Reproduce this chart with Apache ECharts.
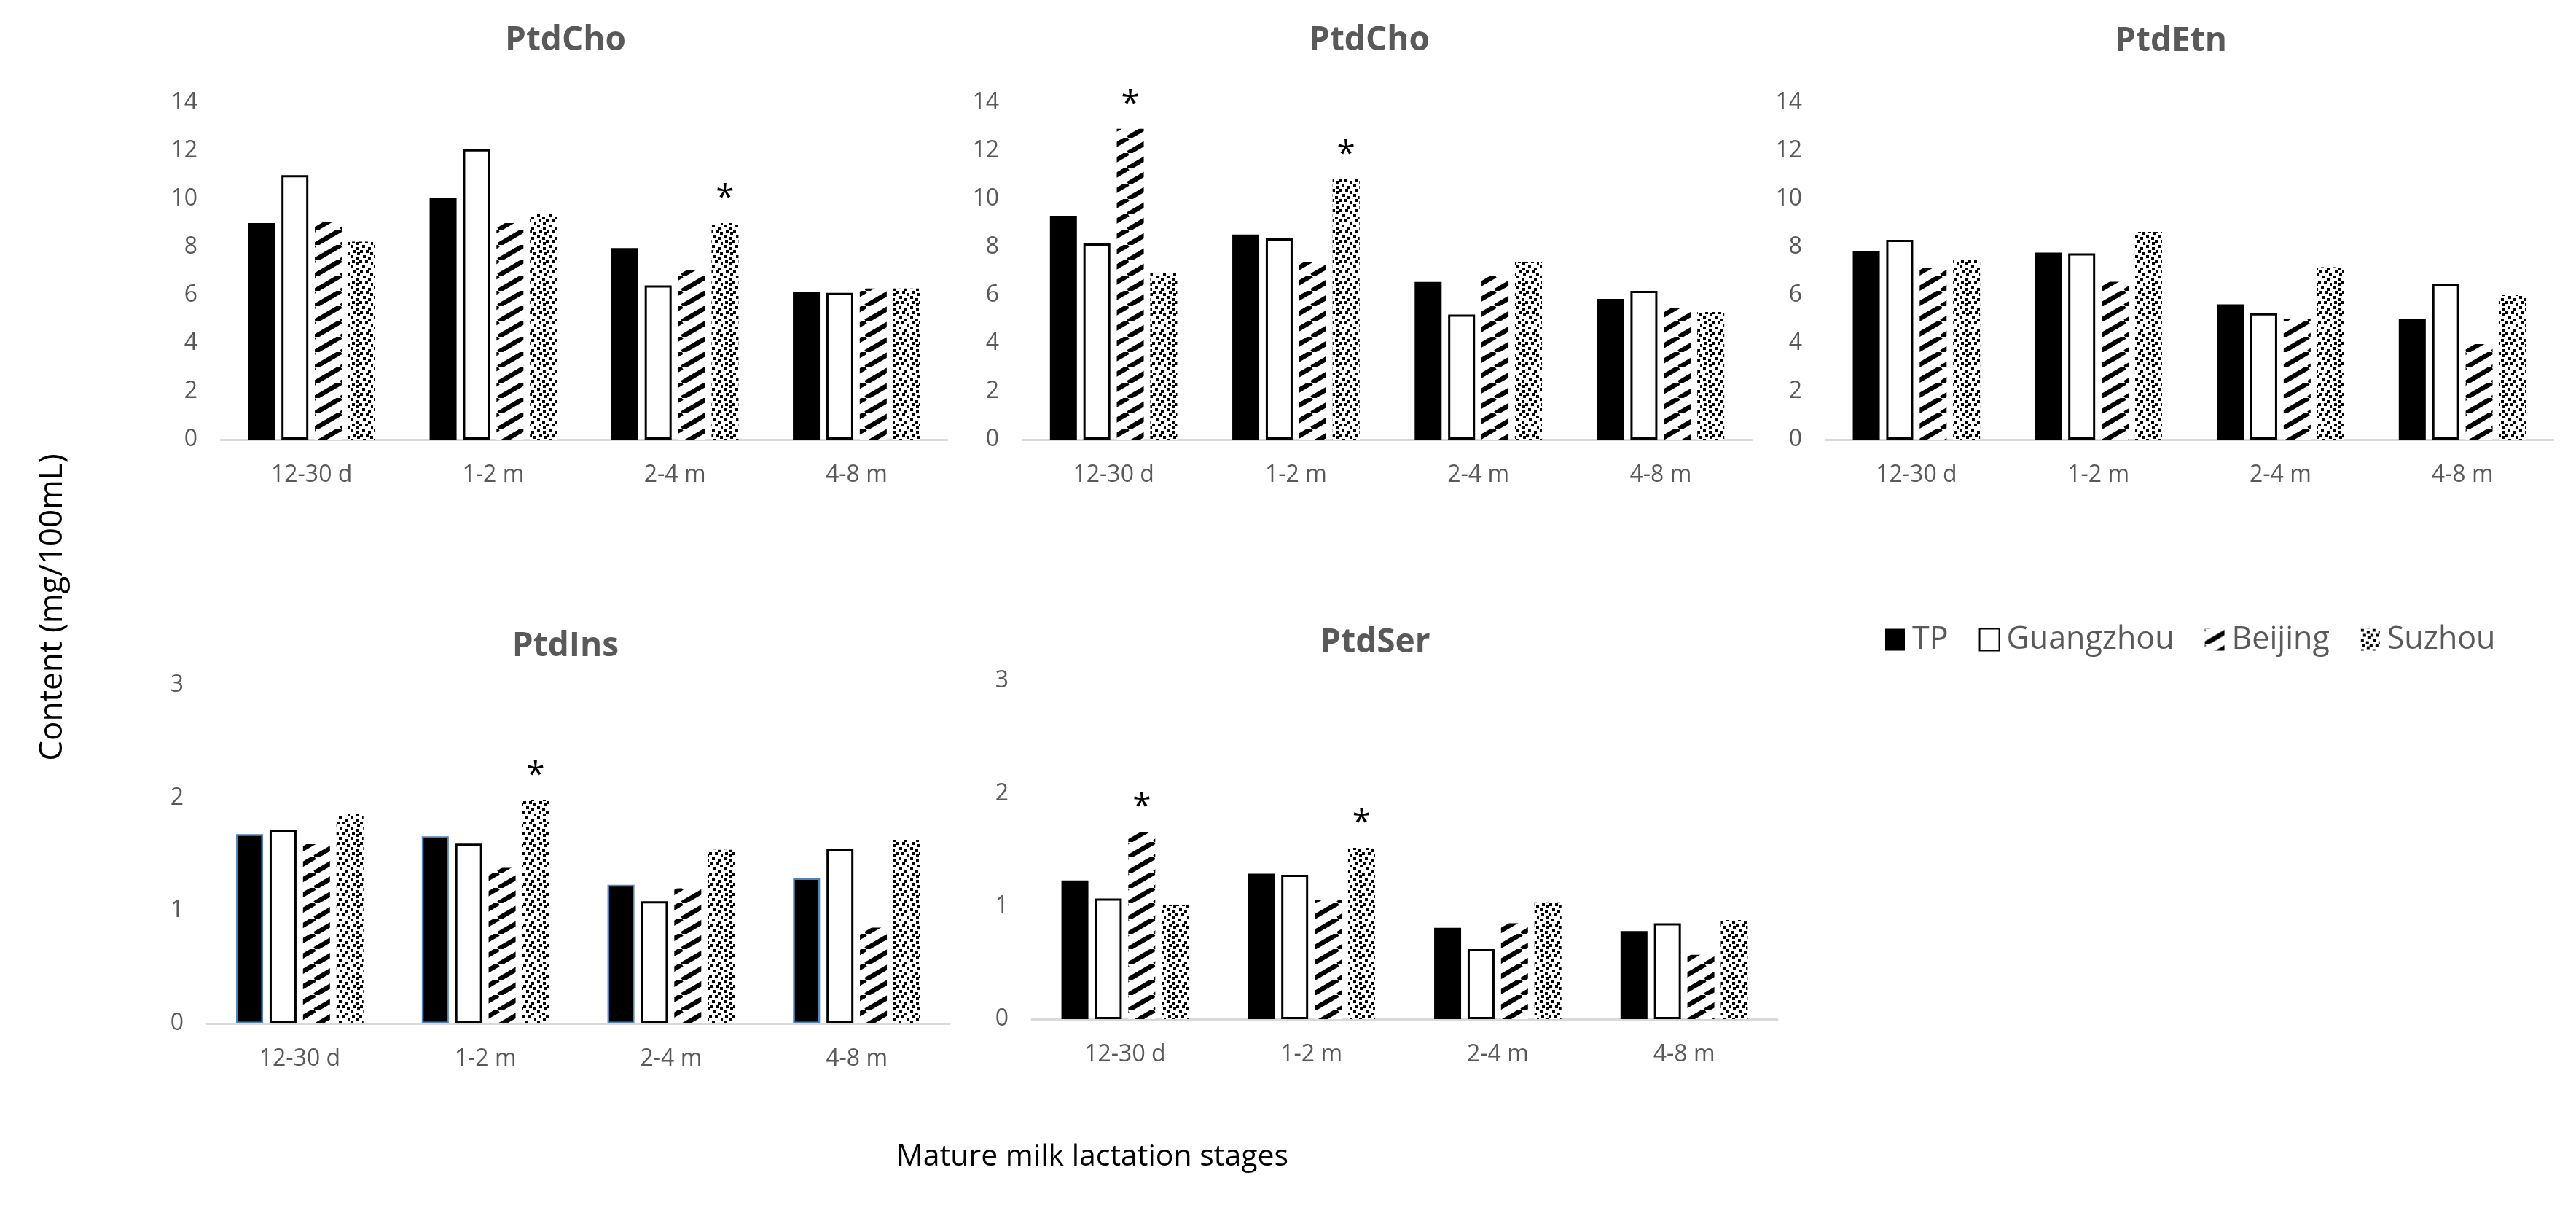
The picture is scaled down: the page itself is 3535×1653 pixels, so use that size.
<!DOCTYPE html>
<html>
<head>
<meta charset="utf-8">
<script src="https://cdn.jsdelivr.net/npm/echarts@6/dist/echarts.min.js"></script>
<style>
html,body{margin:0;padding:0;background:#fff;}
#chart{width:3535px;height:1653px;}
</style>
</head>
<body>
<div id="chart"></div>
<script>
// ---------- data ----------
const categories = ['12-30 d', '1-2 m', '2-4 m', '4-8 m'];
const seriesNames = ['TP', 'Guangzhou', 'Beijing', 'Suzhou'];
const panelTitles = ['PtdCho', 'PtdCho', 'PtdEtn', 'PtdIns', 'PtdSer'];

// each panel: [TP, Guangzhou, Beijing, Suzhou] values per category
const ptdChoA = [[9.0, 10.04, 7.96, 6.12], [10.99, 12.07, 6.41, 6.1], [9.05, 9.0, 7.06, 6.28], [8.23, 9.38, 9.0, 6.28]];
const ptdChoB = [[9.3, 8.52, 6.55, 5.85], [8.15, 8.36, 5.2, 6.18], [12.92, 7.37, 6.79, 5.48], [6.93, 10.83, 7.37, 5.3]];
const ptdEtn  = [[7.83, 7.77, 5.62, 5.01], [8.3, 7.74, 5.25, 6.47], [7.13, 6.56, 5.01, 3.97], [7.48, 8.64, 7.17, 6.03]];
const ptdIns  = [[1.68, 1.66, 1.23, 1.29], [1.72, 1.595, 1.085, 1.55], [1.59, 1.38, 1.2, 0.85], [1.86, 1.98, 1.54, 1.63]];
const ptdSer  = [[1.23, 1.29, 0.81, 0.78], [1.07, 1.28, 0.62, 0.85], [1.66, 1.06, 0.85, 0.57], [1.01, 1.52, 1.03, 0.88]];

// significance stars: [categoryIndex, seriesIndex]
const starsChoA = [[2, 3]];
const starsChoB = [[0, 2], [1, 3]];
const starsEtn  = [];
const starsIns  = [[1, 3]];
const starsSer  = [[0, 2], [1, 3]];

const yTicksTop = [0, 14, 2];    // min, max, interval
const yTicksBottom = [0, 3, 1];

const xAxisTitle = 'Mature milk lactation stages';
const yAxisTitle = 'Content (mg/100mL)';

// ---------- patterns ----------
function stripePattern() {
  const W = 36, H = 21;
  const c = document.createElement('canvas');
  c.width = W; c.height = H;
  const g = c.getContext('2d');
  g.fillStyle = '#fff'; g.fillRect(0, 0, W, H);
  g.strokeStyle = '#000'; g.lineWidth = 6.5;
  for (let k = -1; k <= 1; k++) {
    g.beginPath();
    g.moveTo(k * W, H);
    g.lineTo(k * W + W, 0);
    g.stroke();
  }
  return { image: c, repeat: 'repeat' };
}
function dotPattern() {
  const W = 32, H = 28;
  const c = document.createElement('canvas');
  c.width = W; c.height = H;
  const g = c.getContext('2d');
  g.fillStyle = '#fff'; g.fillRect(0, 0, W, H);
  g.fillStyle = '#000';
  const pts = [[1,0],[17,0],[9,3],[25,3],[4,7],[14,7],[22,7],[10,10],[28,10],
               [1,14],[18,14],[8,17],[25,17],[3,21],[13,21],[21,21],[9,24],[29,24]];
  pts.forEach(p => g.fillRect(p[0], p[1], 4, 4));
  return { image: c, repeat: 'repeat' };
}
const stripeFill = stripePattern();
const dotFill = dotPattern();

// ---------- layout ----------
const panels = [
  { data: ptdChoA, stars: starsChoA, grid: { left: 303, width: 997, top: 141, height: 462 }, ticks: yTicksTop, title: [776, 56] },
  { data: ptdChoB, stars: starsChoB, grid: { left: 1403, width: 1001, top: 141, height: 462 }, ticks: yTicksTop, title: [1879, 56] },
  { data: ptdEtn,  stars: starsEtn,  grid: { left: 2505, width: 999, top: 141, height: 462 }, ticks: yTicksTop, title: [2979, 57] },
  { data: ptdIns,  stars: starsIns,  grid: { left: 284, width: 1019, top: 940, height: 464 }, ticks: yTicksBottom, title: [776, 887], blueTP: true },
  { data: ptdSer,  stars: starsSer,  grid: { left: 1416, width: 1023, top: 934, height: 464 }, ticks: yTicksBottom, title: [1887, 882] }
];

const FONT = 'Open Sans';
const grids = [], xAxes = [], yAxes = [], series = [], graphics = [];

panels.forEach((p, pi) => {
  grids.push(Object.assign({ containLabel: false }, p.grid));
  xAxes.push({
    type: 'category', gridIndex: pi, data: categories,
    axisLine: { show: true, lineStyle: { color: '#d9d9d9', width: 3 } },
    axisTick: { show: false },
    axisLabel: { fontFamily: FONT, fontSize: 32, color: '#595959', margin: 33 },
    splitLine: { show: false }
  });
  yAxes.push({
    type: 'value', gridIndex: pi, min: p.ticks[0], max: p.ticks[1], interval: p.ticks[2],
    axisLine: { show: false }, axisTick: { show: false }, splitLine: { show: false },
    axisLabel: { fontFamily: FONT, fontSize: 32, color: '#595959', margin: 32 }
  });
  seriesNames.forEach((name, si) => {
    let itemStyle;
    if (si === 0) {
      itemStyle = p.blueTP ? { color: '#000', borderColor: '#4f81bd', borderWidth: 2.5 } : { color: '#000' };
    } else if (si === 1) {
      itemStyle = { color: '#fff', borderColor: '#000', borderWidth: 3 };
    } else if (si === 2) {
      itemStyle = { color: stripeFill };
    } else {
      itemStyle = { color: dotFill };
    }
    const vals = p.data[si].map((v, ci) => {
      const star = p.stars.some(s => s[0] === ci && s[1] === si);
      return star ? {
        value: v,
        label: { show: true, position: 'top', distance: 10, formatter: '*', fontFamily: FONT, fontSize: 46, color: '#000' }
      } : v;
    });
    series.push({
      type: 'bar', name: name, xAxisIndex: pi, yAxisIndex: pi,
      data: vals, barWidth: 37, barGap: '24%',
      itemStyle: itemStyle, animation: false,
      emphasis: { disabled: true }
    });
  });
  graphics.push({
    type: 'text', x: p.title[0], y: p.title[1],
    style: { text: panelTitles[pi], fontFamily: FONT, fontSize: 46, fontWeight: 'bold', fill: '#595959', align: 'center', verticalAlign: 'middle' }
  });
});

graphics.push({
  type: 'text', x: 1499, y: 1587,
  style: { text: xAxisTitle, fontFamily: FONT, fontSize: 41, fill: '#000', align: 'center', verticalAlign: 'middle' }
});
graphics.push({
  type: 'text', x: 72, y: 833, rotation: Math.PI / 2,
  style: { text: yAxisTitle, fontFamily: FONT, fontSize: 44, fill: '#000', align: 'center', verticalAlign: 'middle' }
});

const chart = echarts.init(document.getElementById('chart'), null, { renderer: 'canvas' });
chart.setOption({
  backgroundColor: '#fff',
  animation: false,
  legend: {
    data: seriesNames.map(n => ({ name: n, icon: 'rect' })), left: 2582, top: 851,
    itemWidth: 27, itemHeight: 30, itemGap: 42,
    textStyle: { fontFamily: FONT, fontSize: 43, color: '#595959', padding: [0, 0, 0, 5] }
  },
  grid: grids, xAxis: xAxes, yAxis: yAxes, series: series,
  graphic: graphics
});
</script>
</body>
</html>
